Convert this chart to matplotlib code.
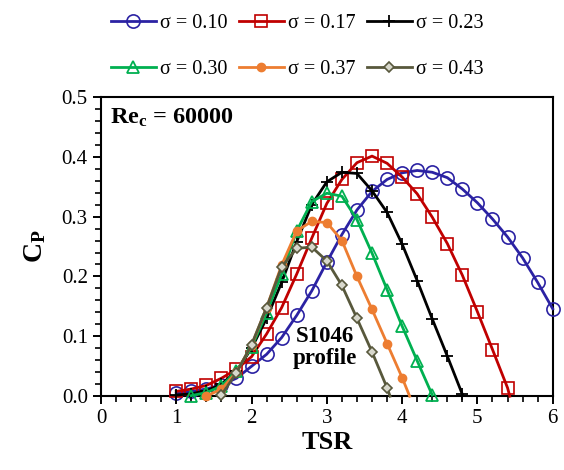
import numpy as np
import matplotlib
matplotlib.use("Agg")
import matplotlib.pyplot as plt

# TSR values per series (step 0.2), last entry of some series is the line end on the axis
tsr_010 = [1.0, 1.2, 1.4, 1.6, 1.8, 2.0, 2.2, 2.4, 2.6, 2.8, 3.0, 3.2, 3.4,
           3.6, 3.8, 4.0, 4.2, 4.4, 4.6, 4.8, 5.0, 5.2, 5.4, 5.6, 5.8, 6.0]
cp_010 = [0.005, 0.008, 0.012, 0.019, 0.030, 0.050, 0.070, 0.098, 0.135, 0.176,
          0.224, 0.270, 0.311, 0.342, 0.362, 0.373, 0.377, 0.374, 0.365, 0.346,
          0.323, 0.296, 0.266, 0.231, 0.190, 0.146]

tsr_017 = [1.0, 1.2, 1.4, 1.6, 1.8, 2.0, 2.2, 2.4, 2.6, 2.8, 3.0, 3.2, 3.4,
           3.6, 3.8, 4.0, 4.2, 4.4, 4.6, 4.8, 5.0, 5.2, 5.4, 5.43]
cp_017 = [0.008, 0.012, 0.018, 0.030, 0.045, 0.066, 0.104, 0.148, 0.204, 0.264,
          0.322, 0.362, 0.390, 0.401, 0.389, 0.366, 0.338, 0.299, 0.255, 0.202,
          0.141, 0.078, 0.014, 0.0]

tsr_023 = [1.0, 1.2, 1.4, 1.6, 1.8, 2.0, 2.2, 2.4, 2.6, 2.8, 3.0, 3.2, 3.4,
           3.6, 3.8, 4.0, 4.2, 4.4, 4.6, 4.8]
cp_023 = [0.002, 0.004, 0.009, 0.020, 0.042, 0.080, 0.130, 0.190, 0.258, 0.320,
          0.358, 0.374, 0.372, 0.343, 0.307, 0.254, 0.193, 0.129, 0.067, 0.003]

tsr_030 = [1.2, 1.4, 1.6, 1.8, 2.0, 2.2, 2.4, 2.6, 2.8, 3.0, 3.2, 3.4, 3.6,
           3.8, 4.0, 4.2, 4.4]
cp_030 = [0.001, 0.006, 0.017, 0.042, 0.082, 0.139, 0.204, 0.276, 0.325, 0.339,
          0.334, 0.295, 0.239, 0.178, 0.117, 0.059, 0.002]

tsr_037 = [1.4, 1.6, 1.8, 2.0, 2.2, 2.4, 2.6, 2.8, 3.0, 3.2, 3.4, 3.6, 3.8,
           4.0, 4.1]
cp_037 = [0.000, 0.012, 0.040, 0.085, 0.148, 0.219, 0.276, 0.292, 0.290, 0.260,
          0.200, 0.145, 0.088, 0.031, 0.0]

tsr_043 = [1.6, 1.8, 2.0, 2.2, 2.4, 2.6, 2.8, 3.0, 3.2, 3.4, 3.6, 3.8, 3.84]
cp_043 = [0.002, 0.039, 0.086, 0.148, 0.216, 0.247, 0.249, 0.226, 0.185, 0.130,
          0.074, 0.014, 0.0]

labels = ["σ = 0.10", "σ = 0.17", "σ = 0.23", "σ = 0.30", "σ = 0.37", "σ = 0.43"]

plt.rcParams['font.family'] = ['Liberation Serif', 'DejaVu Serif']
plt.rcParams['mathtext.fontset'] = 'custom'
plt.rcParams['mathtext.rm'] = 'Liberation Serif'
plt.rcParams['mathtext.it'] = 'Liberation Serif:italic'
plt.rcParams['mathtext.bf'] = 'Liberation Serif:bold'

fig = plt.figure(figsize=(5.64, 4.70), dpi=100)
ax = fig.add_axes([0.179, 0.157, 0.801, 0.637])

styles = [
    dict(color='#2b22a3', marker='o', ms=9.5, mfc='none', mew=1.2),
    dict(color='#c00000', marker='s', ms=8, mfc='none', mew=1.2),
    dict(color='black', marker='+', ms=9, mew=1.3),
    dict(color='#00b050', marker='^', ms=8, mfc='none', mew=1.3),
    dict(color='#ed7d31', marker='o', ms=6, mfc='#ed7d31', mew=1.0),
    dict(color='#58583c', marker='D', ms=5.5, mfc='#d8d8cc', mew=1.2),
]
series = [(tsr_010, cp_010, False), (tsr_017, cp_017, True), (tsr_023, cp_023, False),
          (tsr_030, cp_030, False), (tsr_037, cp_037, True), (tsr_043, cp_043, True)]

lines = []
for (x, y, has_end), st, lab in zip(series, styles, labels):
    n = len(x) - 1 if has_end else len(x)
    ln, = ax.plot(x, y, lw=2.0, markevery=list(range(n)), label=lab, clip_on=False, zorder=3, **st)
    lines.append(ln)

ax.set_xlim(0, 6)
ax.set_ylim(0, 0.5)
ax.set_xticks(np.arange(0, 7, 1))
ax.set_xticks(np.arange(0, 6.01, 0.2), minor=True)
ax.set_yticks(np.arange(0, 0.51, 0.1))
ax.set_yticks(np.arange(0, 0.501, 0.02), minor=True)
ax.set_yticklabels([f"{v:.1f}" for v in np.arange(0, 0.51, 0.1)])
ax.tick_params(which='major', direction='out', length=6, width=1.4, labelsize=15, colors='black')
ax.tick_params(which='minor', direction='out', length=4, width=1.2)
for sp in ax.spines.values():
    sp.set_linewidth(1.5)

ax.set_xlabel('TSR', fontsize=19, fontweight='bold', labelpad=2)
ax.set_ylabel(r'$\mathbf{C_P}$', fontsize=20, labelpad=10)

ax.text(0.12, 0.465, r'$\mathbf{Re_c}$ = 60000', fontsize=17.5, fontweight='bold', va='center')
ax.text(2.97, 0.082, 'S1046\nprofile', fontsize=16.5, fontweight='bold', ha='center', va='center',
        linespacing=1.05)

# fig.legend fills column-wise, so reorder to read row-wise
order = [0, 3, 1, 4, 2, 5]
fig.legend([lines[i] for i in order], [labels[i] for i in order],
           loc='upper center', bbox_to_anchor=(0.527, 1.008), ncol=3, frameon=False, fontsize=14.5,
           handlelength=2.2, columnspacing=0.6, labelspacing=1.3, handletextpad=0.2)

fig.savefig('out.png', dpi=100)
